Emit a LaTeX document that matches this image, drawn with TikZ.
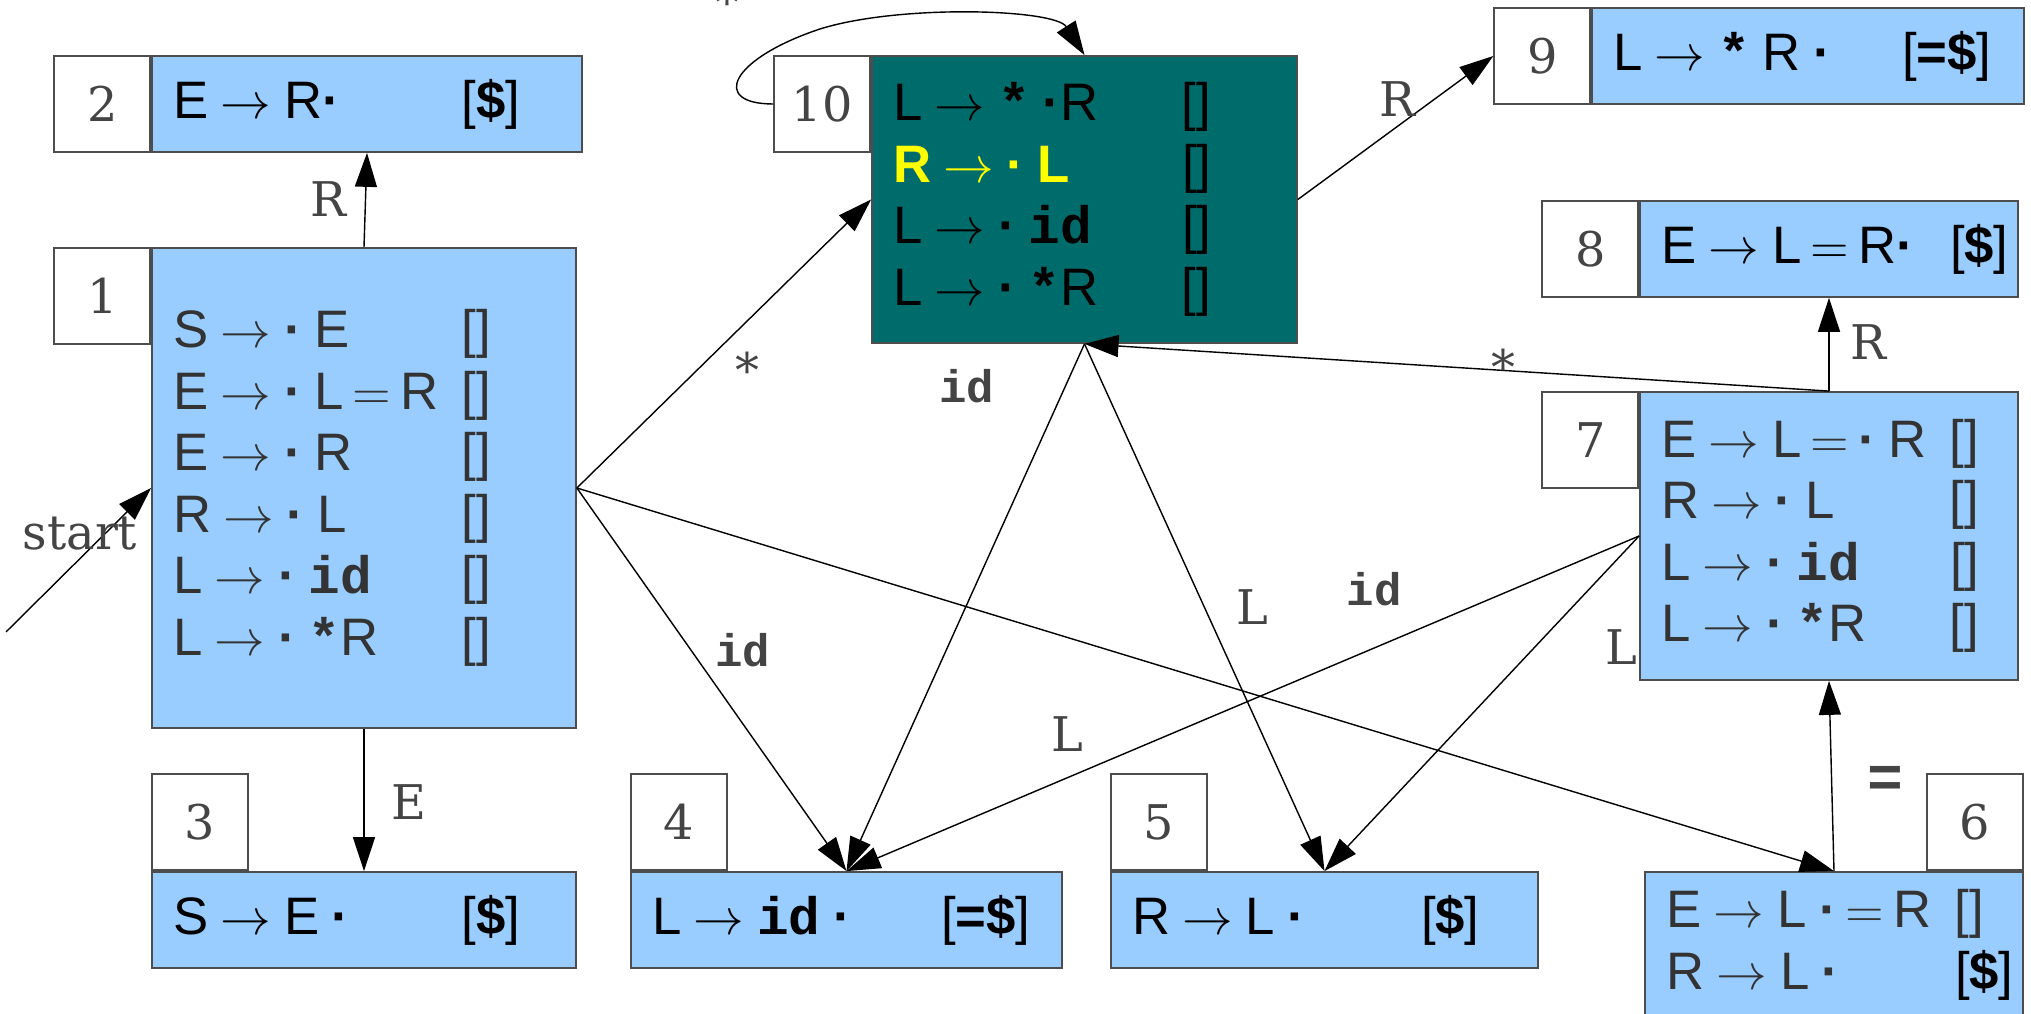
\documentclass[tikz,border=0pt]{standalone}
\usepackage{fontspec}
\setmainfont{Liberation Sans}
\newfontfamily\serifnum{DejaVu Serif}
\newfontfamily\monotok{Liberation Mono}
\usetikzlibrary{arrows.meta,positioning}
\definecolor{Sky}{HTML}{99CCFF}
\definecolor{Teal}{HTML}{006B6B}
\definecolor{Graphite}{HTML}{333333}
\definecolor{Slate}{HTML}{444444}
\definecolor{Frame}{HTML}{4D4D4D}
\definecolor{Lemon}{HTML}{FFFF00}
\newcommand{\rulefont}{\fontsize{15}{17.5}\selectfont}
\newcommand{\arr}{$\rightarrow$}
\newcommand{\eqs}{\makebox[0.6em]{$=$}}
\newcommand{\dotm}{\textbf{·}}
\newcommand{\tok}[1]{{\monotok\bfseries #1}}
\newcommand{\rl}[2]{\makebox[2.89cm][l]{\spaceskip=0.24em\relax #1}#2}
\newcommand{\eos}{\textcolor{black}{[\textbf{\$}]}}
\newcommand{\eqeos}{[\textbf{=\$}]}
\tikzset{
  itemnode/.style={draw=Frame, fill=Sky, line width=0.5pt, inner xsep=0.21cm, inner ysep=0pt, align=left, font=\rulefont},
  tealnode/.style={itemnode, fill=Teal},
  numnode/.style={draw=Frame, fill=white, line width=0.5pt, minimum width=0.96cm, minimum height=0.96cm, inner sep=0pt, font=\serifnum\fontsize{13.6}{16}\selectfont, text=Slate},
  gotoarrow/.style={-{Triangle[length=3.4mm,width=2.2mm]}, line width=0.4pt, draw=black},
  edgelabel/.style={anchor=base, inner sep=0pt, font=\serifnum\fontsize{13.6}{16}\selectfont, text=Slate},
  toklabel/.style={anchor=base, inner sep=0pt, font=\monotok\bfseries\fontsize{13}{16}\selectfont, text=Slate},
}

\begin{document}
\begin{tikzpicture}[x=1cm,y=1cm]
\useasboundingbox (0,0) rectangle (20.31,10.14);
\clip (0,0) rectangle (20.31,10.14);

% item sets
\node[itemnode,text=Graphite,text width=3.82cm,minimum height=4.80cm] (s1) at (3.64,5.26) {\rl{S \arr{} \dotm{} E}{[]}\\\rl{E \arr{} \dotm{} L \eqs{} R}{[]}\\\rl{E \arr{} \dotm{} R}{[]}\\\rl{R \arr{} \dotm{} L}{[]}\\\rl{L \arr{} \dotm{} \tok{id}}{[]}\\\rl{L \arr{} \dotm{} \tok{*}R}{[]}};
\node[itemnode,text width=3.88cm,minimum height=0.96cm] (s2) at (3.67,9.10) {\rl{E \arr{} R\dotm}{\eos}};
\node[itemnode,text width=3.82cm,minimum height=0.96cm] (s3) at (3.64,0.94) {\rl{S \arr{} E \dotm}{\eos}};
\node[itemnode,text width=3.89cm,minimum height=0.96cm] (s4) at (8.465,0.94) {\rl{L \arr{} \tok{id} \dotm}{\eqeos}};
\node[itemnode,text width=3.85cm,minimum height=0.96cm] (s5) at (13.245,0.94) {\rl{R \arr{} L \dotm}{\eos}};
\node[itemnode,text=Graphite,text width=3.36cm,minimum height=1.46cm] (s6) at (18.34,0.69) {\rl{E \arr{} L \dotm{} \eqs{} R}{[]}\\\rl{R \arr{} L \dotm}{\eos}};
\node[itemnode,text=Graphite,text width=3.36cm,minimum height=2.88cm] (s7) at (18.29,4.78) {\rl{E \arr{} L \eqs{} \dotm{} R}{[]}\\\rl{R \arr{} \dotm{} L}{[]}\\\rl{L \arr{} \dotm{} \tok{id}}{[]}\\\rl{L \arr{} \dotm{} \tok{*}R}{[]}};
\node[itemnode,text width=3.36cm,minimum height=0.96cm] (s8) at (18.29,7.65) {\rl{E \arr{} L \eqs{} R\dotm}{\eos}};
\node[itemnode,text width=3.90cm,minimum height=0.96cm] (s9) at (18.08,9.58) {\rl{L \arr{} \tok{*} R \dotm}{\eqeos}};
\node[tealnode,text width=3.83cm,minimum height=2.87cm] (s10) at (10.845,8.145) {\rl{L \arr{} \tok{*} \dotm R}{[]}\\\rl{\textcolor{Lemon}{\textbf{R \arr{} \dotm{} L}}}{[]}\\\rl{L \arr{} \dotm{} \tok{id}}{[]}\\\rl{L \arr{} \dotm{} \tok{*}R}{[]}};

% state numbers
\node[numnode,anchor=north east] (n1) at (s1.north west) {1};
\node[numnode,anchor=north east] (n2) at (s2.north west) {2};
\node[numnode,anchor=south west] (n3) at (s3.north west) {3};
\node[numnode,anchor=south west] (n4) at (s4.north west) {4};
\node[numnode,anchor=south west] (n5) at (s5.north west) {5};
\node[numnode,anchor=south east] (n6) at (s6.north east) {6};
\node[numnode,anchor=north east] (n7) at (s7.north west) {7};
\node[numnode,anchor=north east] (n8) at (s8.north west) {8};
\node[numnode,anchor=north east] (n9) at (s9.north west) {9};
\node[numnode,anchor=north east] (n10) at (s10.north west) {10};

% goto edges
\coordinate (entry) at (0.06,3.82);
\draw[gotoarrow] (entry) -- (s1.west);
\draw[gotoarrow] (s1.north) -- (s2.south);
\draw[gotoarrow] (s1.south) -- (s3.north);
\draw[gotoarrow] (s1.east) -- (s10.west);
\draw[gotoarrow] (s1.east) -- (s4.north);
\draw[gotoarrow] (s1.east) -- (s6.north);
\draw[gotoarrow] (s10.south) -- (s4.north);
\draw[gotoarrow] (s10.south) -- (s5.north);
\draw[gotoarrow] (s10.east) -- (n9.west);
\draw[gotoarrow] (n10.west) .. controls (7.1,9.10) and (7.3,9.55) .. (8.2,9.85) .. controls (9.0,10.1) and (10.55,10.05) .. (s10.north);
\draw[gotoarrow] (s6.north) -- (s7.south);
\draw[gotoarrow] (s7.north) -- (s8.south);
\draw[gotoarrow] (s7.north) -- (s10.south);
\draw[gotoarrow] (s7.west) -- (s4.north);
\draw[gotoarrow] (s7.west) -- (s5.north);

% edge labels
\node[edgelabel] (lbstart) at (0.80,4.64) {start};
\node[edgelabel] (lbR2) at (3.28,7.97) {R};
\node[edgelabel] (lbE3) at (4.09,1.94) {E};
\node[edgelabel] (lbstar1) at (7.47,6.26) {*};
\node[toklabel] (lbid1) at (7.43,3.47) {id};
\node[edgelabel] (lbL1) at (10.67,2.62) {L};
\node[toklabel] (lbid10) at (9.67,6.11) {id};
\node[edgelabel] (lbL10) at (12.52,3.89) {L};
\node[edgelabel] (lbR10) at (13.97,8.97) {R};
\node[edgelabel] (lbloop) at (7.27,9.94) {*};
\node[toklabel] (lbid7) at (13.74,4.08) {id};
\node[edgelabel] (lbL7) at (16.21,3.49) {L};
\node[edgelabel] (lbstar7) at (15.03,6.29) {*};
\node[edgelabel] (lbR7) at (18.68,6.54) {R};
\node[toklabel,font=\monotok\bfseries\fontsize{17}{18}\selectfont] (lbeq) at (18.85,2.16) {=};
\end{tikzpicture}
\end{document}
